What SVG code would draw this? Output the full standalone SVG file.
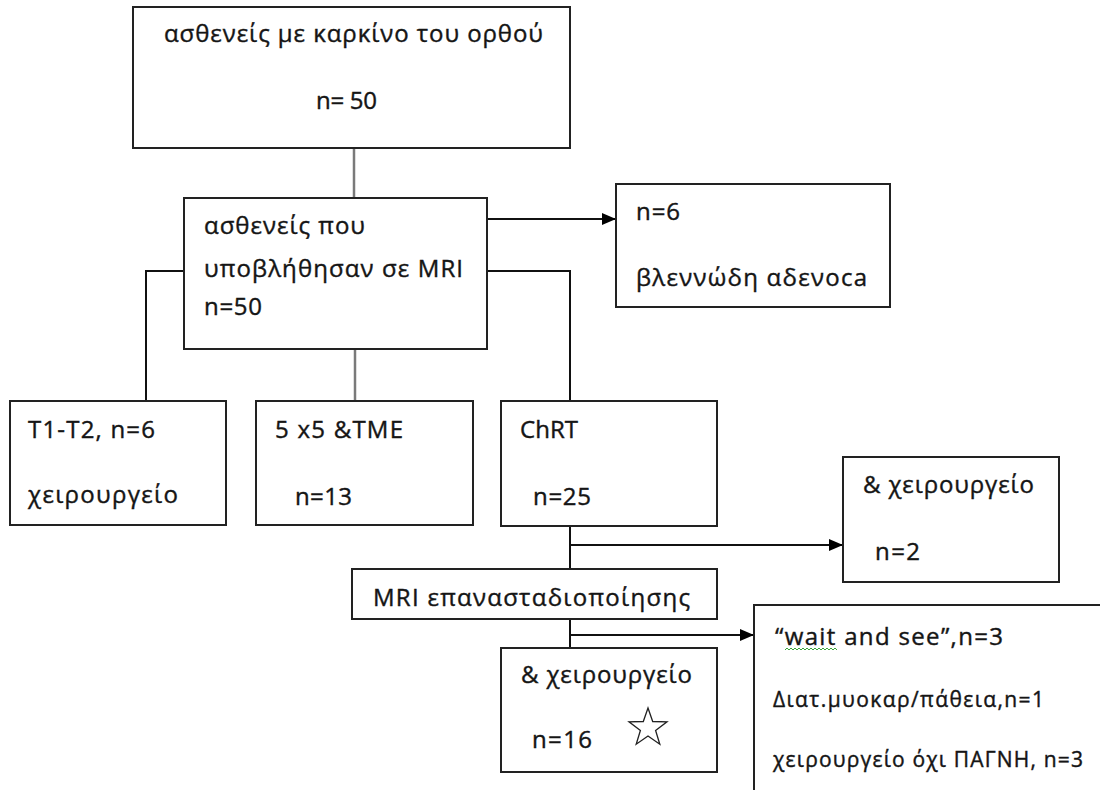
<svg xmlns="http://www.w3.org/2000/svg" width="1100" height="790" viewBox="0 0 1100 790">
<style>
.box{fill:#fff;stroke:#222;stroke-width:2}
text{font-family:"Open Sans","Noto Sans","Liberation Sans",sans-serif;fill:#151515;stroke:#151515;stroke-width:0.4}
.t{font-size:24px}
.s{font-size:21px}
.ln{fill:none;stroke:#111;stroke-width:2}
.gr{fill:none;stroke:#7a7a7a;stroke-width:2.5}
</style>
<defs>
<marker id="ah" markerUnits="userSpaceOnUse" markerWidth="14" markerHeight="12" refX="14" refY="6" orient="auto">
<path d="M0,0 L14,6 L0,12 Z" fill="#000"/>
</marker>
</defs>
<rect width="1100" height="790" fill="#fff"/>

<g id="connectors">
<path class="gr" d="M354,148 V198"/>
<path class="ln" d="M487,219 H616" marker-end="url(#ah)"/>
<path class="ln" d="M487,271 H570 V401"/>
<path class="ln" d="M184,271 H146 V401"/>
<path class="gr" d="M355,349 V401"/>
<path class="ln" d="M570,526 V569"/>
<path class="ln" d="M570,545 H843" marker-end="url(#ah)"/>
<path class="ln" d="M570,619 V648"/>
<path class="ln" d="M570,635 H754" stroke="#333" marker-end="url(#ah)"/>
</g>

<g id="n_patients">
<rect class="box" x="133" y="7" width="437" height="141"/>
<text class="t" x="164" y="42" textLength="379" lengthAdjust="spacing">ασθενείς με καρκίνο του ορθού</text>
<text class="t" x="316" y="109" textLength="61" lengthAdjust="spacing">n= 50</text>
</g>

<g id="n_mri">
<rect class="box" x="184" y="198" width="303" height="151"/>
<text class="t" x="204" y="234" textLength="161" lengthAdjust="spacing">ασθενείς που</text>
<text class="t" x="204" y="277" textLength="259" lengthAdjust="spacing">υποβλήθησαν σε MRI</text>
<text class="t" x="204" y="315" textLength="58" lengthAdjust="spacing">n=50</text>
</g>

<g id="n_mucinous">
<rect class="box" x="616" y="184" width="274" height="123"/>
<text class="t" x="636" y="220" textLength="44" lengthAdjust="spacing">n=6</text>
<text class="t" x="636" y="286" textLength="231" lengthAdjust="spacing">βλεννώδη αδενοca</text>
</g>

<g id="n_t1t2">
<rect class="box" x="10" y="401" width="216" height="124"/>
<text class="t" x="28" y="438" textLength="127" lengthAdjust="spacing">T1-T2, n=6</text>
<text class="t" x="28" y="503" textLength="150" lengthAdjust="spacing">χειρουργείο</text>
</g>

<g id="n_5x5">
<rect class="box" x="256" y="401" width="217" height="124"/>
<text class="t" x="275" y="438" textLength="128" lengthAdjust="spacing">5 x5 &amp;TME</text>
<text class="t" x="295" y="505" textLength="57" lengthAdjust="spacing">n=13</text>
</g>

<g id="n_chrt">
<rect class="box" x="501" y="401" width="216" height="125"/>
<text class="t" x="520" y="438" textLength="58" lengthAdjust="spacing">ChRT</text>
<text class="t" x="533" y="505" textLength="58" lengthAdjust="spacing">n=25</text>
</g>

<g id="n_surgery2">
<rect class="box" x="843" y="457" width="216" height="125"/>
<text class="t" x="863" y="493" textLength="171" lengthAdjust="spacing">&amp; χειρουργείο</text>
<text class="t" x="875" y="560" textLength="45" lengthAdjust="spacing">n=2</text>
</g>

<g id="n_restaging">
<rect class="box" x="352" y="569" width="365" height="50"/>
<text class="t" x="373" y="606" textLength="317" lengthAdjust="spacing">MRI επανασταδιοποίησης</text>
</g>

<g id="n_surgery16">
<rect class="box" x="501" y="648" width="216" height="124"/>
<text class="t" x="521" y="683" textLength="171" lengthAdjust="spacing">&amp; χειρουργείο</text>
<text class="t" x="532" y="748" textLength="60" lengthAdjust="spacing">n=16</text>
<polygon points="648,708 652.7,721.5 667,721.8 655.6,730.5 659.8,744.2 648,736 636.2,744.2 640.4,730.5 629,721.8 643.3,721.5" fill="none" stroke="#222" stroke-width="1.3" stroke-linejoin="miter"/>
</g>

<g id="n_other">
<rect class="box" x="754" y="605" width="360" height="200"/>
<text class="t" x="775" y="645" textLength="228" lengthAdjust="spacing">“wait and see”,n=3</text>
<path d="M785,650 l2,-2 l2,2 l2,-2 l2,2 l2,-2 l2,2 l2,-2 l2,2 l2,-2 l2,2 l2,-2 l2,2 l2,-2 l2,2 l2,-2 l2,2 l2,-2 l2,2 l2,-2 l2,2 l2,-2 l2,2 l2,-2 l2,2 l2,-2 l2,2" fill="none" stroke="#3aa63a" stroke-width="1"/>
<text class="s" x="773" y="707" textLength="271" lengthAdjust="spacing">Διατ.μυοκαρ/πάθεια,n=1</text>
<text class="s" x="773" y="767" textLength="310" lengthAdjust="spacing">χειρουργείο όχι ΠΑΓΝΗ,  n=3</text>
</g>
</svg>
